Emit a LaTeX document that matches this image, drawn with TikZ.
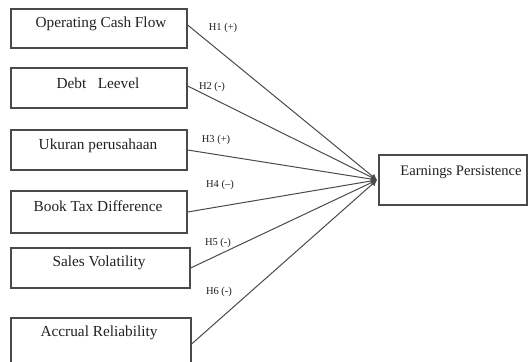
\documentclass[tikz,border=0pt]{standalone}
\usepackage{fontspec}
\setmainfont{Liberation Serif}
\usetikzlibrary{arrows.meta}
\definecolor{boxline}{HTML}{4A4A4A}
\definecolor{txt}{HTML}{202020}
\tikzset{
  varbox/.style={draw=boxline, line width=1.2pt, rectangle, inner sep=0pt},
  boxtext/.style={text=txt, font=\fontsize{15.3}{17}\selectfont, inner sep=0pt},
  hyp/.style={text=txt, font=\fontsize{10.5}{12}\selectfont, inner sep=0pt},
  conn/.style={draw=boxline, line width=1pt, -{Latex[length=6pt,width=6pt]}}
}
\begin{document}
\begin{tikzpicture}[x=1pt,y=-1pt]
\useasboundingbox (0,0) rectangle (529,361);
\clip (0,0) rectangle (529,361);
% boxes
\node[varbox, minimum width=176pt, minimum height=39pt] (b1) at (99,28.5) {};
\node[varbox, minimum width=176pt, minimum height=40pt] (b2) at (99,88) {};
\node[varbox, minimum width=176pt, minimum height=40pt] (b3) at (99,150) {};
\node[varbox, minimum width=176pt, minimum height=42pt] (b4) at (99,212) {};
\node[varbox, minimum width=179pt, minimum height=40pt] (b5) at (100.5,268) {};
\node[varbox, minimum width=180pt, minimum height=46pt] (b6) at (101,341) {};
\node[varbox, minimum width=148pt, minimum height=50pt] (ep) at (453,180) {};
% texts
\node[boxtext] (t1) at (101,24) {Operating Cash Flow};
\node[boxtext] (t2) at (98,83) {Debt\ \ \ Leevel};
\node[boxtext] (t3) at (98,146) {Ukuran perusahaan};
\node[boxtext] (t4) at (98,206) {Book Tax Difference};
\node[boxtext] (t5) at (99,263) {Sales Volatility};
\node[boxtext] (t6) at (99,333) {Accrual Reliability};
\node[boxtext, font=\fontsize{14.6}{17}\selectfont] (t7) at (461,172) {Earnings Persistence};
% target point
\coordinate (tp) at (377,180);
% connectors
\draw[conn] ([yshift=3.5pt]b1.east) -- (tp);
\draw[conn] ([yshift=2pt]b2.east) -- (tp);
\draw[conn] (b3.east) -- (tp);
\draw[conn] (b4.east) -- (tp);
\draw[conn] (b5.east) -- (tp);
\draw[conn] ([yshift=-3pt]b6.east) -- (tp);
% hypothesis labels
\node[hyp] (h1) at (223,28) {H1 (+)};
\node[hyp] (h2) at (212,87) {H2 (-)};
\node[hyp] (h3) at (216,140) {H3 (+)};
\node[hyp] (h4) at (220,185) {H4 (–)};
\node[hyp] (h5) at (218,243) {H5 (-)};
\node[hyp] (h6) at (219,292) {H6 (-)};
\end{tikzpicture}
\end{document}
